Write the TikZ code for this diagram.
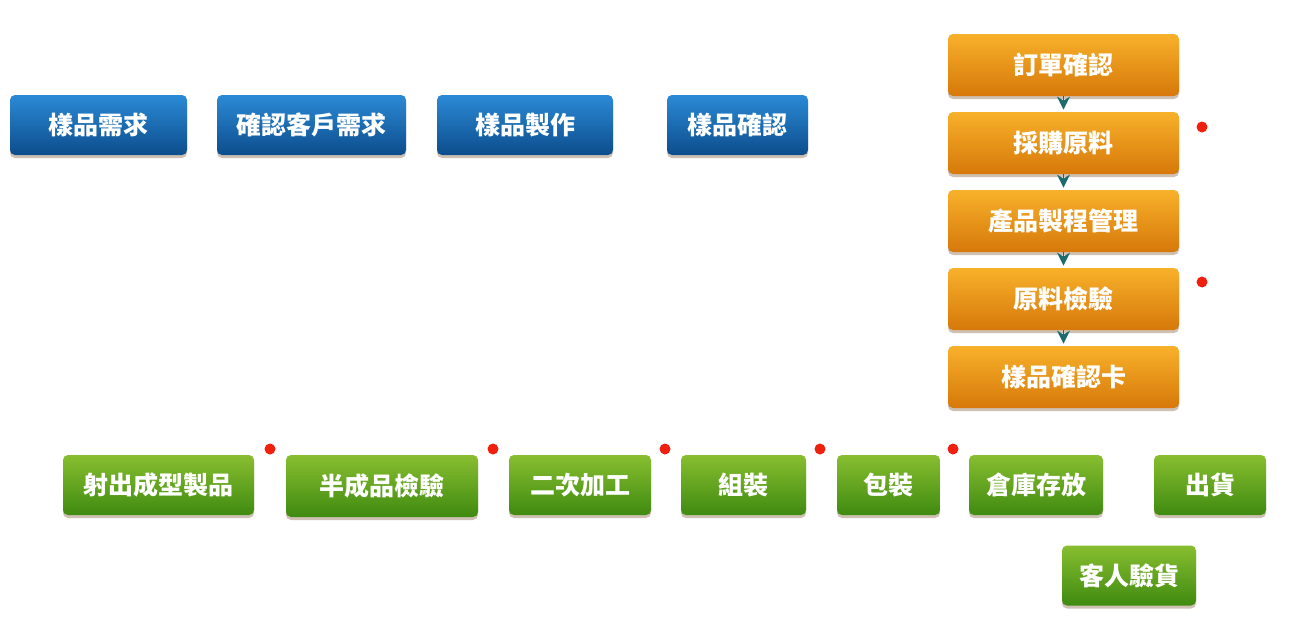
\documentclass[tikz,border=0pt]{standalone}
\usepackage{fontspec}
\setmainfont{Noto Sans CJK TC}
\usepackage{tikz}
\usetikzlibrary{arrows.meta,shadows,positioning}
\definecolor{bluetop}{HTML}{2B8AD6}
\definecolor{bluebot}{HTML}{0C4D8C}
\definecolor{orgtop}{HTML}{F8B12A}
\definecolor{orgbot}{HTML}{D6780A}
\definecolor{grntop}{HTML}{88BE30}
\definecolor{grnbot}{HTML}{3F8A10}
\definecolor{tipcol}{HTML}{1E6B6E}
\definecolor{dotred}{HTML}{F0200E}
\tikzset{
  box/.style={rounded corners=2.5pt, text=white, font=\fontsize{12.5}{15}\selectfont\bfseries,
    inner sep=0pt, minimum height=30pt,
    drop shadow={shadow xshift=0pt, shadow yshift=-1.5pt, fill=brown!60!black, opacity=0.35}},
  bluebox/.style={box, top color=bluetop, bottom color=bluebot},
  orgbox/.style={box, top color=orgtop, bottom color=orgbot, minimum width=115.5pt, minimum height=31pt},
  grnbox/.style={box, top color=grntop, bottom color=grnbot},
  dot/.style={circle, fill=dotred, inner sep=0pt, minimum size=5.5pt},
  flow/.style={-{Stealth[length=6.5pt,width=6.5pt,inset=2pt]}, tipcol, line width=0.6pt, shorten >=1pt}
}
\begin{document}
\begin{tikzpicture}[x=0.5pt, y=-0.5pt]
    \useasboundingbox (0,0) rectangle (1303,637);

    % sample stage (top row)
    \node[bluebox, minimum width=88.5pt] (smpneed) at (98.5,125) {樣品需求};
    \node[bluebox, minimum width=94.5pt] (custneed) at (311.5,125) {確認客戶需求};
    \node[bluebox, minimum width=88pt] (smpmake) at (525,125) {樣品製作};
    \node[bluebox, minimum width=70.5pt] (smpok) at (737.5,125) {樣品確認};

    % order stage (right column)
    \node[orgbox] (order) at (1063.5,65) {訂單確認};
    \node[orgbox] (buy) at (1063.5,143) {採購原料};
    \node[orgbox] (proc) at (1063.5,221) {產品製程管理};
    \node[orgbox] (matchk) at (1063.5,299) {原料檢驗};
    \node[orgbox] (card) at (1063.5,377) {樣品確認卡};

    \draw[flow] (order) -- (buy);
    \draw[flow] (buy) -- (proc);
    \draw[flow] (proc) -- (matchk);
    \draw[flow] (matchk) -- (card);

    % production stage (bottom row)
    \node[grnbox, minimum width=95.5pt] (mold) at (158.5,485) {射出成型製品};
    \node[grnbox, minimum width=96pt, minimum height=31pt] (semichk) at (382,486) {半成品檢驗};
    \node[grnbox, minimum width=71pt] (second) at (580,485) {二次加工};
    \node[grnbox, minimum width=62.5pt] (assy) at (743.5,485) {組裝};
    \node[grnbox, minimum width=51.5pt] (pack) at (888.5,485) {包裝};
    \node[grnbox, minimum width=67pt] (store) at (1036,485) {倉庫存放};
    \node[grnbox, minimum width=56pt] (ship) at (1210,485) {出貨};
    \node[grnbox, minimum width=67pt] (inspect) at (1129,575.5) {客人驗貨};

    % red marks
    \node[dot] (d1) at (1202,127) {};
    \node[dot] (d2) at (1202,282) {};
    \node[dot] (d3) at (270,449) {};
    \node[dot] (d4) at (493,449) {};
    \node[dot] (d5) at (665,449) {};
    \node[dot] (d6) at (820,449) {};
    \node[dot] (d7) at (953,449) {};

\end{tikzpicture}
\end{document}
